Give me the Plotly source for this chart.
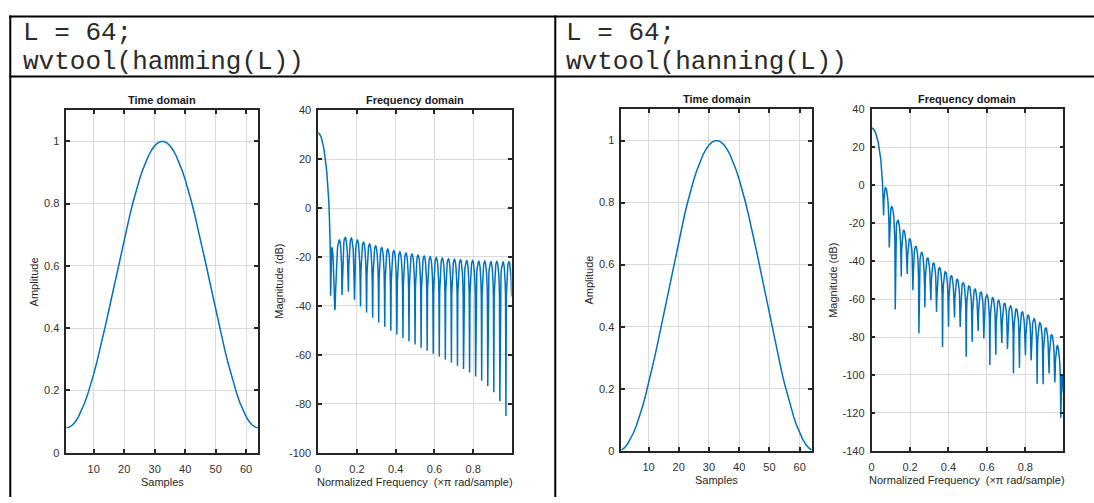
import numpy as np
import plotly.graph_objects as go

# ---- data ---------------------------------------------------------------
L = 64
sample_index = list(range(1, L + 1))

# hamming(64) window samples
hamming_values = [
    0.08000000, 0.08228584, 0.08912066, 0.10043651, 0.11612094, 0.13601808, 0.15993016, 0.18761956,
    0.21881106, 0.25319469, 0.29042872, 0.33014310, 0.37194313, 0.41541338, 0.46012184, 0.50562416,
    0.55146812, 0.59719810, 0.64235963, 0.68650386, 0.72919207, 0.77000000, 0.80852209, 0.84437549,
    0.87720386, 0.90668095, 0.93251381, 0.95444568, 0.97225861, 0.98577555, 0.99486218, 0.99942818,
    0.99942818, 0.99486218, 0.98577555, 0.97225861, 0.95444568, 0.93251381, 0.90668095, 0.87720386,
    0.84437549, 0.80852209, 0.77000000, 0.72919207, 0.68650386, 0.64235963, 0.59719810, 0.55146812,
    0.50562416, 0.46012184, 0.41541338, 0.37194313, 0.33014310, 0.29042872, 0.25319469, 0.21881106,
    0.18761956, 0.15993016, 0.13601808, 0.11612094, 0.10043651, 0.08912066, 0.08228584, 0.08000000,
]

# hanning(64) window samples
hanning_values = [
    0.00233418, 0.00931494, 0.02087709, 0.03691268, 0.05727199, 0.08176493, 0.11016282, 0.14220052,
    0.17757889, 0.21596763, 0.25700829, 0.30031771, 0.34549150, 0.39210790, 0.43973166, 0.48791813,
    0.53621740, 0.58417852, 0.63135369, 0.67730244, 0.72159577, 0.76382012, 0.80358125, 0.84050793,
    0.87425537, 0.90450850, 0.93098483, 0.95343718, 0.97165591, 0.98547091, 0.99475320, 0.99941611,
    0.99941611, 0.99475320, 0.98547091, 0.97165591, 0.95343718, 0.93098483, 0.90450850, 0.87425537,
    0.84050793, 0.80358125, 0.76382012, 0.72159577, 0.67730244, 0.63135369, 0.58417852, 0.53621740,
    0.48791813, 0.43973166, 0.39210790, 0.34549150, 0.30031771, 0.25700829, 0.21596763, 0.17757889,
    0.14220052, 0.11016282, 0.08176493, 0.05727199, 0.03691268, 0.02087709, 0.00931494, 0.00233418,
]

time_xticks = [10, 20, 30, 40, 50, 60]
time_yticks = [0, 0.2, 0.4, 0.6, 0.8, 1]
freq_xticks = [0, 0.2, 0.4, 0.6, 0.8]
hamming_db_ticks = [-100, -80, -60, -40, -20, 0, 20, 40]
hanning_db_ticks = [-140, -120, -100, -80, -60, -40, -20, 0, 20, 40]

code_lines = {
    "hamming": ["L = 64;", "wvtool(hamming(L))"],
    "hanning": ["L = 64;", "wvtool(hanning(L))"],
}
titles = ["Time domain", "Frequency domain", "Time domain", "Frequency domain"]
xlabels = ["Samples", "Normalized Frequency  (\u00d7\u03c0 rad/sample)"] * 2
ylabels = ["Amplitude", "Magnitude (dB)"] * 2

# ---- frequency response (512 points over [0, pi)) -----------------------
NFREQ = 512


def freq_response(w, n=NFREQ):
    h = np.fft.fft(np.asarray(w), 2 * n)[:n]
    return np.arange(n) / n, 20 * np.log10(np.abs(h))


ham_f, ham_db = freq_response(hamming_values)
han_f, han_db = freq_response(hanning_values)

# ---- figure ---------------------------------------------------------------
W, H = 1094, 503


def fx(p):
    return p / W


def fy(p):
    return 1 - p / H


def tick_text(vals):
    # plain hyphen-minus labels, as in MATLAB axes
    return ["%g" % v for v in vals]


LINE = "#0072BD"
AX = "#262626"
GRID = "#dadada"
FONT = "Liberation Sans, Arial, sans-serif"

fig = go.Figure()
series = [
    (sample_index, hamming_values),
    (ham_f, ham_db),
    (sample_index, hanning_values),
    (han_f, han_db),
]
for i, (xs, ys) in enumerate(series, start=1):
    sfx = "" if i == 1 else str(i)
    fig.add_trace(go.Scatter(x=xs, y=ys, mode="lines", line=dict(color=LINE, width=1.5),
                             xaxis="x" + sfx, yaxis="y" + sfx, hoverinfo="x+y"))


def axstyle(**kw):
    d = dict(showline=True, linecolor=AX, linewidth=1.6, mirror="ticks", ticks="inside",
             ticklen=4, tickwidth=1.6, tickcolor=AX, showgrid=True, gridcolor=GRID,
             gridwidth=1, zeroline=False, tickfont=dict(family=FONT, size=11, color="#303030"))
    d.update(kw)
    return d


panels = [
    # (x-domain px, y-domain px, x range, y range, x ticks, y ticks)
    ((63.5, 256), (106.7, 457.7), [1, 64], [0, 1.1], time_xticks, time_yticks),
    ((316, 510), (106.7, 457.7), [0, (NFREQ - 1) / NFREQ], [-100, 40], freq_xticks, hamming_db_ticks),
    ((620, 811), (106, 455.7), [1, 64], [0, 1.1], time_xticks, time_yticks),
    ((871, 1063.3), (106, 455.7), [0, (NFREQ - 1) / NFREQ], [-140, 40], freq_xticks, hanning_db_ticks),
]

layout = dict(width=W, height=H, margin=dict(l=0, r=0, t=0, b=0), paper_bgcolor="white",
              plot_bgcolor="white", showlegend=False)
for i, (xd, yd, xr, yr, xt, yt) in enumerate(panels, start=1):
    sfx = "" if i == 1 else str(i)
    layout["xaxis" + sfx] = axstyle(domain=[fx(xd[0]), fx(xd[1])], range=xr, tickvals=xt,
                                     ticktext=tick_text(xt), ticklabelstandoff=5,
                                     anchor="y" + sfx)
    layout["yaxis" + sfx] = axstyle(domain=[fy(yd[1]), fy(yd[0])], range=yr, tickvals=yt,
                                     ticktext=tick_text(yt), ticklabelstandoff=3,
                                     anchor="x" + sfx)
fig.update_layout(**layout)

ann = []
ylab_x = [32, 277, 588, 832]
for (xd, yd, *_), t, xl, yl, yx in zip(panels, titles, xlabels, ylabels, ylab_x):
    cx = fx((xd[0] + xd[1]) / 2)
    ann.append(dict(text="<b>" + t + "</b>", x=cx, y=fy(yd[0]), xref="paper", yref="paper",
                    xanchor="center", yanchor="bottom", yshift=2, showarrow=False,
                    font=dict(family=FONT, size=11, color="#1a1a1a")))
    ann.append(dict(text=xl, x=cx, y=fy(yd[1] + 29.5), xref="paper", yref="paper",
                    xanchor="center", yanchor="middle", showarrow=False,
                    font=dict(family=FONT, size=11, color=AX)))
    ann.append(dict(text=yl, x=fx(yx), y=fy((yd[0] + yd[1]) / 2), xref="paper", yref="paper",
                    xanchor="center", yanchor="middle", textangle=-90, showarrow=False,
                    font=dict(family=FONT, size=11, color=AX)))

CODE_FONT = dict(family="Liberation Mono, Courier New, monospace", size=26, color="#2a2a2a")
for x0, key in [(18, "hamming"), (563, "hanning")]:
    for yc, txt in zip([27.5, 57.5], code_lines[key]):
        ann.append(dict(text=txt, x=fx(x0), y=fy(yc), xref="paper", yref="paper",
                        xanchor="left", yanchor="middle", showarrow=False, font=CODE_FONT))

shapes = []


def hline(y, x0, x1):
    shapes.append(dict(type="line", xref="paper", yref="paper", x0=fx(x0), x1=fx(x1),
                       y0=fy(y), y1=fy(y), line=dict(color="black", width=2)))


def vline(x, y0, y1):
    shapes.append(dict(type="line", xref="paper", yref="paper", x0=fx(x), x1=fx(x),
                       y0=fy(y0), y1=fy(y1), line=dict(color="black", width=2)))


# table frame around the two code/plot cells
hline(10.7, 6.3, W)
hline(72.3, 6.3, W)
vline(7.3, 9.7, H)
vline(553.8, 9.7, H)

fig.update_layout(annotations=ann, shapes=shapes)
fig.write_html("out.html")
